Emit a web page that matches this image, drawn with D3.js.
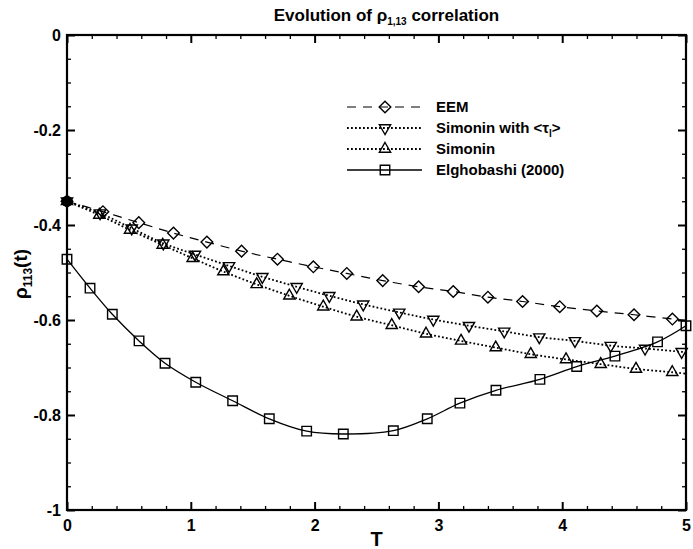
<!DOCTYPE html>
<html><head><meta charset="utf-8">
<script src="https://cdn.jsdelivr.net/npm/d3@7"></script>
<style>
body{margin:0;background:#fff}
text{font-family:"Liberation Sans",Arial,Helvetica,sans-serif;fill:#000}
</style>
</head><body>
<svg id="chart" width="693" height="549"></svg>
<script>
// ---- data ----
const eemT   = [0,0.29,0.58,0.86,1.13,1.41,1.70,1.99,2.26,2.55,2.84,3.12,3.40,3.68,3.98,4.28,4.58,4.89];
const eemRho = [-0.35,-0.372,-0.395,-0.417,-0.436,-0.455,-0.472,-0.488,-0.502,-0.517,-0.530,-0.540,-0.552,-0.561,-0.572,-0.581,-0.589,-0.598];
const eemEnd = -0.601;

const simTauT   = [0,0.267,0.523,0.778,1.034,1.309,1.578,1.855,2.119,2.393,2.684,2.959,3.247,3.532,3.815,4.103,4.392,4.669,4.965];
const simTauRho = [-0.35,-0.375,-0.407,-0.4385,-0.462,-0.486,-0.509,-0.530,-0.549,-0.567,-0.584,-0.599,-0.612,-0.624,-0.636,-0.644,-0.654,-0.660,-0.667];
const simTauEnd = -0.668;

const simT   = [0,0.261,0.509,0.773,1.015,1.263,1.532,1.796,2.07,2.34,2.623,2.90,3.183,3.463,3.746,4.031,4.311,4.596,4.889];
const simRho = [-0.35,-0.379,-0.4105,-0.442,-0.470,-0.498,-0.525,-0.549,-0.572,-0.593,-0.611,-0.629,-0.644,-0.658,-0.672,-0.683,-0.693,-0.703,-0.710];
const simEnd = -0.713;

const elgT   = [0,0.186,0.366,0.582,0.792,1.04,1.338,1.634,1.936,2.232,2.636,2.91,3.174,3.465,3.82,4.117,4.426,4.77,5.0];
const elgRho = [-0.472,-0.533,-0.588,-0.644,-0.691,-0.731,-0.770,-0.808,-0.834,-0.840,-0.833,-0.808,-0.775,-0.748,-0.725,-0.698,-0.676,-0.646,-0.612];

const xTicks = [0,1,2,3,4,5];
const yTicks = [0,-0.2,-0.4,-0.6,-0.8,-1];
const legendLabels = ["EEM","Simonin with <τ","Simonin","Elghobashi (2000)"];

// ---- layout ----
const svg = d3.select("#chart");
const L = 67, R = 686, T = 35, B = 510;
const x = d3.scaleLinear().domain([0,5]).range([L,R]);
const y = d3.scaleLinear().domain([-1,0]).range([B,T]);

function addAxis(gen, tr, major, minor){
  const g1 = svg.append("g").attr("transform",tr).call(gen.tickValues(minor).tickSize(-4).tickFormat(""));
  g1.select(".domain").remove();
  g1.selectAll("line").attr("stroke","#000").attr("stroke-width",1.3);
  const g2 = svg.append("g").attr("transform",tr).call(gen.tickValues(major).tickSize(-8));
  g2.select(".domain").remove();
  g2.selectAll("line").attr("stroke","#000").attr("stroke-width",2);
  return g2;
}
const xMinor = d3.range(0,5.001,0.2).filter(v=>Math.abs(v-Math.round(v))>1e-6);
const yMinor = d3.range(-1,0.0001,0.05).filter(v=>Math.abs(v*5-Math.round(v*5))>1e-6);

const gb = addAxis(d3.axisBottom(x), `translate(0,${B})`, xTicks, xMinor);
gb.selectAll("text").text(d=>String(d)).attr("y",10).attr("dy","0.71em")
  .style("font-size","16px").style("font-weight","bold");
const gt = addAxis(d3.axisTop(x), `translate(0,${T})`, xTicks, xMinor);
gt.selectAll("text").remove();
const gl = addAxis(d3.axisLeft(y), `translate(${L},0)`, yTicks, yMinor);
gl.selectAll("text").text(d=>String(Math.round(d*10)/10)).attr("x",-6)
  .style("font-size","16px").style("font-weight","bold");
const gr = addAxis(d3.axisRight(y), `translate(${R},0)`, yTicks, yMinor);
gr.selectAll("text").remove();

// frame
svg.append("rect").attr("x",L).attr("y",T).attr("width",R-L).attr("height",B-T)
  .attr("fill","none").attr("stroke","#000").attr("stroke-width",2.2);

// series
const series = [
  {T:eemT, V:eemRho, end:eemEnd, dash:"9,7", w:1.2, sym:d3.symbolSquare, size:68, rot:45},
  {T:simTauT, V:simTauRho, end:simTauEnd, dash:"1.8,2.2", w:1.8, sym:d3.symbolTriangle, size:55, rot:180},
  {T:simT, V:simRho, end:simEnd, dash:"1.8,2.2", w:1.8, sym:d3.symbolTriangle, size:55, rot:0},
  {T:elgT, V:elgRho, end:null, dash:null, w:1.3, sym:d3.symbolSquare, size:90, rot:0}
];
const line = d3.line().x(d=>x(d[0])).y(d=>y(d[1])).curve(d3.curveCatmullRom);
series.forEach(s=>{
  const pts = s.T.map((t,i)=>[t,s.V[i]]);
  const lp = s.end===null ? pts : pts.concat([[5,s.end]]);
  svg.append("path").attr("d",line(lp)).attr("fill","none").attr("stroke","#000")
    .attr("stroke-width",s.w).attr("stroke-dasharray",s.dash);
});
series.forEach(s=>{
  const sym = d3.symbol().type(s.sym).size(s.size);
  s.T.forEach((t,i)=>{
    svg.append("path").attr("d",sym())
      .attr("transform",`translate(${x(t)},${y(s.V[i])}) rotate(${s.rot})`)
      .attr("fill","none").attr("stroke","#000").attr("stroke-width",1.4);
  });
});
// overlapping start point of the three models (appears filled)
svg.append("circle").attr("cx",x(eemT[0])).attr("cy",y(eemRho[0])).attr("r",5.5).attr("fill","#000");

// legend
const legY = [107,128,149,170];
series.forEach((s,i)=>{
  svg.append("line").attr("x1",347).attr("x2",422).attr("y1",legY[i]).attr("y2",legY[i])
    .attr("stroke","#000").attr("stroke-width",s.w).attr("stroke-dasharray",s.dash);
  svg.append("path").attr("d",d3.symbol().type(s.sym).size(s.size)())
    .attr("transform",`translate(385,${legY[i]}) rotate(${s.rot})`)
    .attr("fill","none").attr("stroke","#000").attr("stroke-width",1.4);
  const t = svg.append("text").attr("x",436).attr("y",legY[i]).attr("dy","0.36em")
    .style("font-size","15px").style("font-weight","bold");
  if(i===1){
    t.append("tspan").text(legendLabels[i]);
    t.append("tspan").text("l").attr("dy","4").style("font-size","10px");
    t.append("tspan").text(">").attr("dy","-4");
  } else t.text(legendLabels[i]);
});

// title
const title = svg.append("text").attr("x",(L+R)/2+10).attr("y",21).attr("text-anchor","middle")
  .style("font-size","17px").style("font-weight","bold");
title.append("tspan").text("Evolution of ρ");
title.append("tspan").text("1,13").attr("dy","4").style("font-size","10px");
title.append("tspan").text(" correlation").attr("dy","-4");

// axis labels
svg.append("text").attr("x",(L+R)/2).attr("y",546).attr("text-anchor","middle")
  .style("font-size","20px").style("font-weight","bold").text("T");
const yl = svg.append("text").attr("transform","translate(27,274) rotate(-90)").attr("text-anchor","middle")
  .style("font-size","19px").style("font-weight","bold");
yl.append("tspan").text("ρ");
yl.append("tspan").text("113").attr("dy","5").style("font-size","12px");
yl.append("tspan").text("(t)").attr("dy","-5");
</script>
</body></html>
